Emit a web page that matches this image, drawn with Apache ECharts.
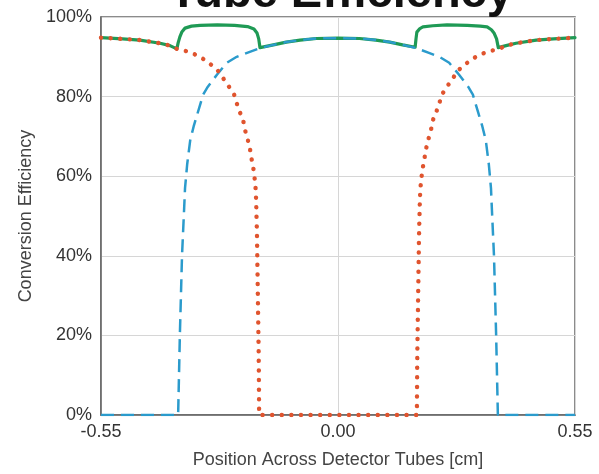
<!DOCTYPE html>
<html>
<head>
<meta charset="utf-8">
<script src="https://cdn.jsdelivr.net/npm/echarts@6/dist/echarts.min.js"></script>
<style>
  html, body { margin: 0; padding: 0; background: #fff; }
  #chart { width: 599px; height: 474px; }
</style>
</head>
<body>
<div id="chart"></div>
<script>
  // position across detector tubes [cm] and efficiency [%]
  const posCenter = [-0.55, -0.371, -0.367, -0.362, -0.357, -0.355, -0.35, -0.343, -0.335, -0.327, -0.313, -0.302, -0.281, -0.258, -0.235, -0.211, -0.181, -0.15, -0.12, -0.088, -0.05, 0,
    0.05, 0.088, 0.12, 0.15, 0.181, 0.211, 0.235, 0.258, 0.281, 0.302, 0.313, 0.327, 0.335, 0.343, 0.35, 0.355, 0.357, 0.362, 0.367, 0.371, 0.55]
  const effCenter = [0, 0, 20, 40, 52, 57, 63, 69, 72.5, 75.4, 80.5, 82.5, 85.5, 88.5, 90, 91, 92.2, 93, 93.7, 94.2, 94.6, 94.7,
    94.6, 94.2, 93.7, 93, 92.2, 91, 90, 88.5, 85.5, 82.5, 80.5, 75.4, 72.5, 69, 63, 57, 52, 40, 20, 0, 0]

  const posOuter = [-0.55, -0.5, -0.46, -0.413, -0.39, -0.374, -0.344, -0.32, -0.3, -0.28, -0.267, -0.253, -0.241, -0.237, -0.23, -0.22, -0.216, -0.209, -0.204, -0.2, -0.196, -0.193, -0.191, -0.19, -0.188, -0.186, -0.184, -0.183,
    0.183, 0.184, 0.186, 0.188, 0.19, 0.191, 0.193, 0.196, 0.2, 0.204, 0.209, 0.216, 0.22, 0.23, 0.237, 0.241, 0.253, 0.267, 0.28, 0.3, 0.32, 0.344, 0.374, 0.39, 0.413, 0.46, 0.5, 0.55]
  const effOuter = [94.8, 94.5, 94.2, 93.4, 92.8, 92, 91.2, 90, 88.5, 86.7, 84.7, 82.5, 80.5, 79, 76.7, 74, 71.7, 69, 66.7, 64, 61.7, 59, 56.6, 54, 45, 30, 15, 0,
    0, 15, 30, 45, 54, 56.6, 59, 61.7, 64, 66.7, 69, 71.7, 74, 76.7, 79, 80.5, 82.5, 84.7, 86.7, 88.5, 90, 91.2, 92, 92.8, 93.4, 94.2, 94.5, 94.8]

  const posTotal = [-0.55, -0.5, -0.46, -0.413, -0.39, -0.374, -0.371, -0.367, -0.362, -0.355, -0.34, -0.32, -0.28, -0.24, -0.21, -0.195, -0.188, -0.184, -0.181, -0.15, -0.12, -0.088, -0.05, 0,
    0.05, 0.088, 0.12, 0.15, 0.179, 0.181, 0.183, 0.19, 0.197, 0.22, 0.253, 0.3, 0.33, 0.346, 0.356, 0.362, 0.368, 0.372, 0.39, 0.413, 0.46, 0.5, 0.55]
  const effTotal = [94.8, 94.5, 94.2, 93.4, 92.8, 92, 93.5, 95, 96.3, 97.2, 97.7, 97.9, 98, 97.9, 97.6, 97, 96, 94.5, 92.3, 93, 93.7, 94.2, 94.6, 94.7,
    94.6, 94.2, 93.7, 93, 92.4, 94.5, 96.2, 97.1, 97.5, 97.8, 98, 97.9, 97.7, 97.5, 96.8, 96, 94.5, 92.3, 92.8, 93.4, 94.2, 94.5, 94.8]

  const yTicks = [0, 20, 40, 60, 80, 100]

  function pairs(xs, ys) {
    return xs.map((x, i) => [x, ys[i]])
  }

  const labelFont = "Liberation Sans, Arial, sans-serif"

  const option = {
    animation: false,
    title: {
      text: "Tube Efficiency",
      left: 164,
      top: -34,
      textStyle: { fontFamily: labelFont, fontSize: 47, fontWeight: "bold", color: "#111" },
    },
    grid: {
      left: 101,
      right: 24,
      top: 17,
      bottom: 58,
      show: true,
      borderColor: "#666",
      borderWidth: 1.5,
    },
    xAxis: {
      type: "value",
      min: -0.55,
      max: 0.55,
      interval: 0.55,
      name: "Position Across Detector Tubes [cm]",
      nameLocation: "middle",
      nameGap: 36,
      nameTextStyle: { fontFamily: labelFont, fontSize: 18, color: "#444" },
      axisLine: { show: true, onZero: false, lineStyle: { color: "#666", width: 1.5 } },
      axisTick: { show: false },
      axisLabel: {
        fontFamily: labelFont,
        fontSize: 18,
        color: "#333",
        margin: 8,
        formatter: (v) => v.toFixed(2),
      },
      splitLine: { show: true, lineStyle: { color: "#d6d6d6", width: 1 } },
    },
    yAxis: {
      type: "value",
      min: yTicks[0],
      max: yTicks[yTicks.length - 1],
      interval: 20,
      name: "Conversion Efficiency",
      nameLocation: "middle",
      nameGap: 66,
      nameTextStyle: { fontFamily: labelFont, fontSize: 18, color: "#444" },
      axisLine: { show: true, onZero: false, lineStyle: { color: "#666", width: 1.5 } },
      axisTick: { show: false },
      axisLabel: {
        fontFamily: labelFont,
        fontSize: 18,
        color: "#333",
        margin: 9,
        formatter: "{value}%",
      },
      splitLine: { show: true, lineStyle: { color: "#d6d6d6", width: 1 } },
    },
    series: [
      {
        name: "total",
        type: "line",
        data: pairs(posTotal, effTotal),
        showSymbol: false,
        lineStyle: { color: "#1f9a55", width: 3.2, cap: "round", join: "round" },
        z: 2,
      },
      {
        name: "center tube",
        type: "line",
        data: pairs(posCenter, effCenter),
        showSymbol: false,
        lineStyle: { color: "#2b9bcc", width: 2.5, type: [13, 7] },
        z: 3,
      },
      {
        name: "outer tubes",
        type: "line",
        data: pairs(posOuter, effOuter),
        showSymbol: false,
        lineStyle: { color: "#e0542e", width: 4.4, type: [0.1, 9.5], cap: "round" },
        z: 4,
      },
    ],
  }

  const myChart = echarts.init(document.getElementById("chart"))
  myChart.setOption(option)
</script>
</body>
</html>
